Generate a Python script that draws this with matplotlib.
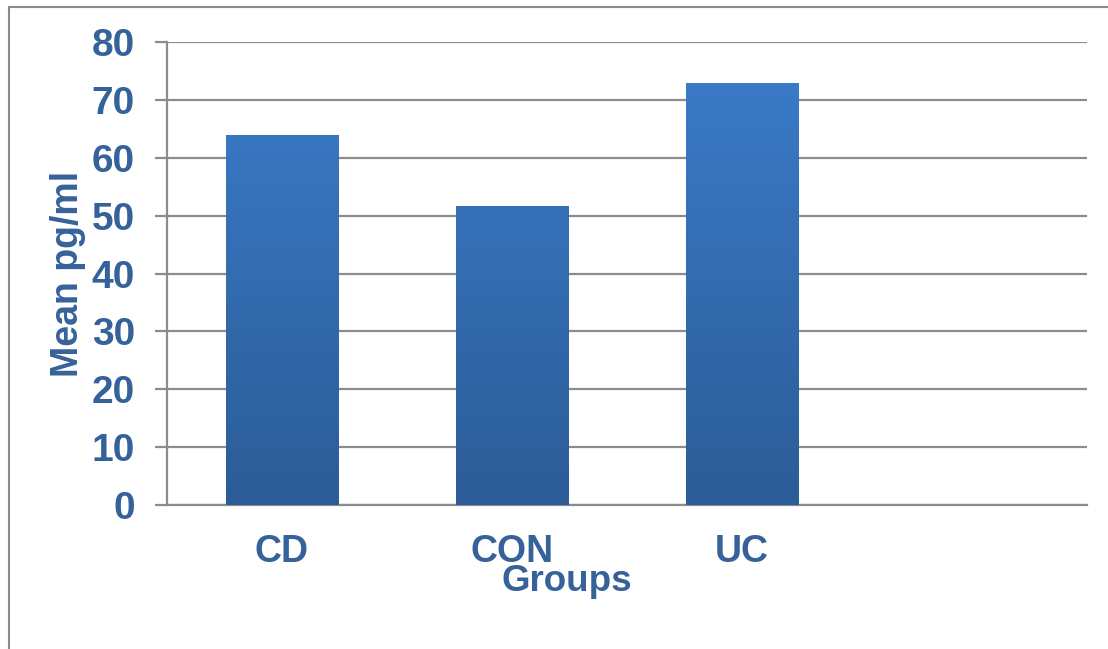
import matplotlib
matplotlib.use("Agg")
import matplotlib.pyplot as plt
import numpy as np
from matplotlib.patches import Rectangle
from matplotlib.colors import LinearSegmentedColormap

categories = ["CD", "CON", "UC", ""]
values = [64, 51.6, 73]
yticks = [0, 10, 20, 30, 40, 50, 60, 70, 80]

W, H = 1108, 649
fig = plt.figure(figsize=(W / 100, H / 100), dpi=100)
plt.rcParams['font.family'] = ['Liberation Sans', 'DejaVu Sans']
text_color = "#36629a"
grid_color = "#8c8c8c"

ax = fig.add_axes([167 / W, 1 - 505 / H, 920 / W, 463 / H])
ax.set_xlim(-0.5, 3.5)
ax.set_ylim(0, 80)

ax.set_yticks(yticks)
ax.yaxis.grid(True, color=grid_color, linewidth=1.6)
ax.set_axisbelow(True)
for s in ["top", "right"]:
    ax.spines[s].set_visible(False)
ax.spines["left"].set_color(grid_color)
ax.spines["left"].set_linewidth(1.6)
ax.spines["bottom"].set_color(grid_color)
ax.spines["bottom"].set_linewidth(1.6)

ax.tick_params(axis="y", length=9, width=1.6, color=grid_color, pad=14,
               labelsize=28, labelcolor=text_color)
ax.tick_params(axis="x", length=0, pad=21, labelsize=27, labelcolor=text_color)
for lab in ax.get_yticklabels():
    lab.set_fontweight("bold")

x = np.arange(len(values))
ax.set_xticks(np.arange(len(categories)))
ax.set_xticklabels(categories, fontweight="bold")

cmap = LinearSegmentedColormap.from_list("g", ["#2c5c97", "#3b7dcb"])
grad = np.linspace(0, 1, 256).reshape(-1, 1)
bars = ax.bar(x, values, width=0.487, color="none", edgecolor="none", zorder=3)
for b in bars:
    # subtle shadow
    sh = Rectangle((b.get_x() + 0.006, 0), b.get_width(), b.get_height(),
                   facecolor="#000000", alpha=0.10, edgecolor="none", zorder=2.5)
    ax.add_patch(sh)
    bg = Rectangle((b.get_x(), 0), b.get_width(), b.get_height(),
                   facecolor="#3572b8", edgecolor="none", zorder=2.8)
    ax.add_patch(bg)
    im = ax.imshow(grad, cmap=cmap, origin="lower", aspect="auto",
                   extent=[b.get_x(), b.get_x() + b.get_width(), 0, 80],
                   zorder=3, interpolation="bicubic")
    im.set_clip_path(b)
ax.set_xlim(-0.5, 3.5)
ax.set_ylim(0, 80)

ax.set_ylabel("Mean pg/ml", fontsize=27, fontweight="bold", color=text_color)
ax.yaxis.set_label_coords(-(167 - 86) / 920, 0.5)
ax.set_xlabel("Groups", fontsize=26.5, fontweight="bold", color=text_color)
ax.xaxis.set_label_coords((567 - 167) / 920, -(591 - 505) / 463)
ax.xaxis.label.set_va("baseline")

frame = Rectangle((9 / W, -0.1), 1.2, 1 - 7 / H + 0.1, transform=fig.transFigure,
                  facecolor="none", edgecolor="#8a8a8a", linewidth=1.5,
                  clip_on=False)
fig.patches.append(frame)

fig.savefig("out.png", dpi=100)
